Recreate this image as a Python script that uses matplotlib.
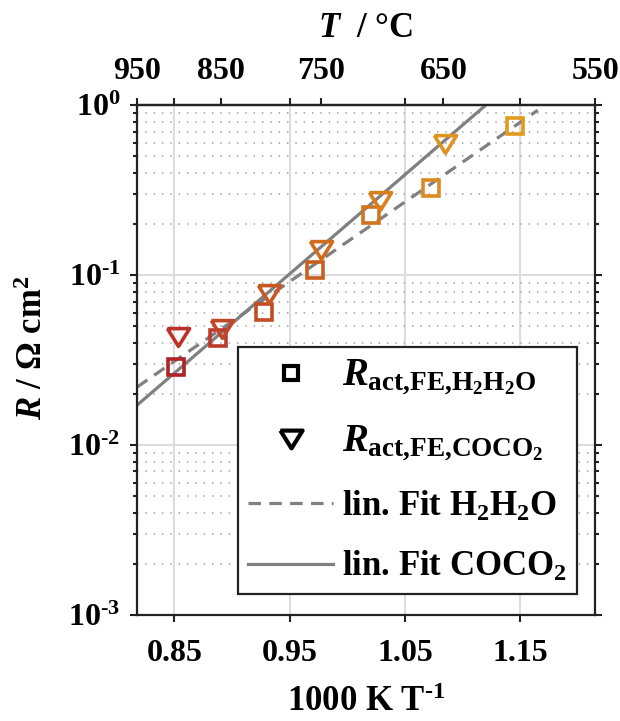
import numpy as np
import matplotlib
matplotlib.use("Agg")
import matplotlib.pyplot as plt
from matplotlib.ticker import FixedLocator, LogLocator, NullFormatter
from matplotlib.lines import Line2D

plt.rcParams['font.family'] = ['Liberation Serif', 'DejaVu Serif']
plt.rcParams['font.weight'] = 'bold'
plt.rcParams['mathtext.fontset'] = 'custom'
plt.rcParams['mathtext.rm'] = 'Liberation Serif:bold'
plt.rcParams['mathtext.it'] = 'Liberation Serif:bold:italic'
plt.rcParams['mathtext.bf'] = 'Liberation Serif:bold'
plt.rcParams['lines.scale_dashes'] = False

# ---------------- data ----------------
x_h2 = [0.8517, 0.8875, 0.9276, 0.9722, 1.0202, 1.0726, 1.1451]
r_h2 = [0.0288, 0.0426, 0.0606, 0.108, 0.225, 0.325, 0.752]
c_h2 = ['#ae2228', '#bb3a2a', '#c24e22', '#c8601e', '#d2741c', '#da8a1e', '#e09a1c']

x_co = [0.8534, 0.8910, 0.9320, 0.9774, 1.0280, 1.0850]
r_co = [0.043, 0.048, 0.078, 0.140, 0.272, 0.590]
c_co = ['#bc3228', '#c2462a', '#c85a20', '#d06c1c', '#d8801c', '#e09420']

# linear fits: log10(R) = a + b * x
fit_h2 = (-5.493, 4.69)
fit_co = (-6.540, 5.84)
fit_xrange = (0.8176, 1.165)

x_ticks = [0.85, 0.95, 1.05, 1.15]
x_ticklabels = ['0.85', '0.95', '1.05', '1.15']
t_ticks = [950, 850, 750, 650, 550]
y_ticks = [1e-3, 1e-2, 1e-1, 1e0]
y_ticklabels = [r'$\mathbf{10^{‐3}}$', r'$\mathbf{10^{‐2}}$', r'$\mathbf{10^{‐1}}$', r'$\mathbf{10^{0}}$']

legend_labels = [r'$\mathit{R}_{\mathrm{act{,}FE{,}H_2H_2O}}$',
                 r'$\mathit{R}_{\mathrm{act{,}FE{,}COCO_2}}$',
                 r'lin. Fit H$_\mathrm{2}$H$_\mathrm{2}$O',
                 r'lin. Fit COCO$_\mathrm{2}$']

# ---------------- figure ----------------
fig = plt.figure(figsize=(6.2, 7.21), dpi=100)
ax = fig.add_axes([0.221, 0.147, 0.739, 0.707])

xlim = (1000 / (950 + 273.15), 1000 / (550 + 273.15))
ax.set_xlim(*xlim)
ax.set_yscale('log')
ax.set_ylim(1e-3, 1e0)

gray = '#808080'
tri = [(-1, 0.8), (1, 0.8), (0, -0.8), (-1, 0.8)]
xf = np.linspace(fit_xrange[0], fit_xrange[1], 100)
ax.plot(xf, 10 ** (fit_h2[0] + fit_h2[1] * xf), color=gray, lw=2.3,
        dashes=(9, 6), zorder=2)
ax.plot(xf, 10 ** (fit_co[0] + fit_co[1] * xf), color=gray, lw=2.3, zorder=2)

for x, r, c in zip(x_h2, r_h2, c_h2):
    ax.plot([x], [r], ls='none', marker='s', ms=11.5, mfc='none', mec=c, mew=2.6, zorder=3)
for x, r, c in zip(x_co, r_co, c_co):
    ax.plot([x], [r], ls='none', marker=tri, ms=16, mfc='none', mec=c, mew=2.6, zorder=3)

# ticks / grid
ax.xaxis.set_major_locator(FixedLocator(x_ticks))
ax.set_xticklabels(x_ticklabels)
ax.yaxis.set_major_locator(FixedLocator(y_ticks))
ax.set_yticklabels(y_ticklabels)
ax.yaxis.set_minor_locator(LogLocator(base=10, subs=np.arange(2, 10)))
ax.yaxis.set_minor_formatter(NullFormatter())

ax.set_axisbelow(True)
ax.grid(True, which='major', axis='both', color='#dcdcdc', lw=1.4, ls='-')
ax.grid(True, which='minor', axis='y', color='#b0b0b0', lw=1.4, ls=(0, (1, 5)))

ax.tick_params(which='both', direction='out', top=True, right=True, width=1.5,
               labelsize=23, color='#222222')
ax.tick_params(axis='x', pad=12)
ax.tick_params(axis='y', pad=7)
ax.tick_params(which='major', length=5)
ax.tick_params(which='minor', length=3)
for lab in ax.get_xticklabels() + ax.get_yticklabels():
    lab.set_fontweight('bold')
for s in ax.spines.values():
    s.set_linewidth(1.6)
    s.set_color('#222222')

ax.set_xlabel(r'1000 K T$^\mathrm{‐1}$', fontsize=25, fontweight='bold', labelpad=13)
ax.set_ylabel(r'$\mathit{R}$ / Ω cm$^\mathrm{2}$', fontsize=25, fontweight='bold')
ax.yaxis.set_label_coords(-0.19, 0.524)

# top temperature axis
sec = ax.secondary_xaxis('top', functions=(lambda x: 1000 / np.asarray(x, float) - 273.15,
                                           lambda t: 1000 / (np.asarray(t, float) + 273.15)))
sec.xaxis.set_major_locator(FixedLocator(t_ticks))
sec.tick_params(direction='out', length=5, width=1.5, labelsize=23, pad=9, color='#222222')
for lab in sec.get_xticklabels():
    lab.set_fontweight('bold')
sec.spines['top'].set_linewidth(1.6)
sec.set_xlabel(r'$\mathit{T}$  / °C', fontsize=25, fontweight='bold', labelpad=14)

# legend
handles = [Line2D([], [], ls='none', marker='s', ms=10, mfc='none', mec='black', mew=3.0),
           Line2D([], [], ls='none', marker=tri, ms=16, mfc='none', mec='black', mew=3.0),
           Line2D([], [], color=gray, lw=2.3, dashes=(9, 6)),
           Line2D([], [], color=gray, lw=2.3)]
leg = ax.legend(handles, legend_labels, loc='lower right', bbox_to_anchor=(0.961, 0.041),
                borderaxespad=0, prop={'weight': 'bold', 'size': 25},
                frameon=True, fancybox=False, edgecolor='#222222', framealpha=1,
                handlelength=2.45, handletextpad=0.25, labelspacing=0.75, borderpad=0.3)
leg.get_frame().set_linewidth(1.6)
for t in leg.get_texts()[:2]:
    t.set_fontsize(28)

fig.savefig('out.png', dpi=100)
